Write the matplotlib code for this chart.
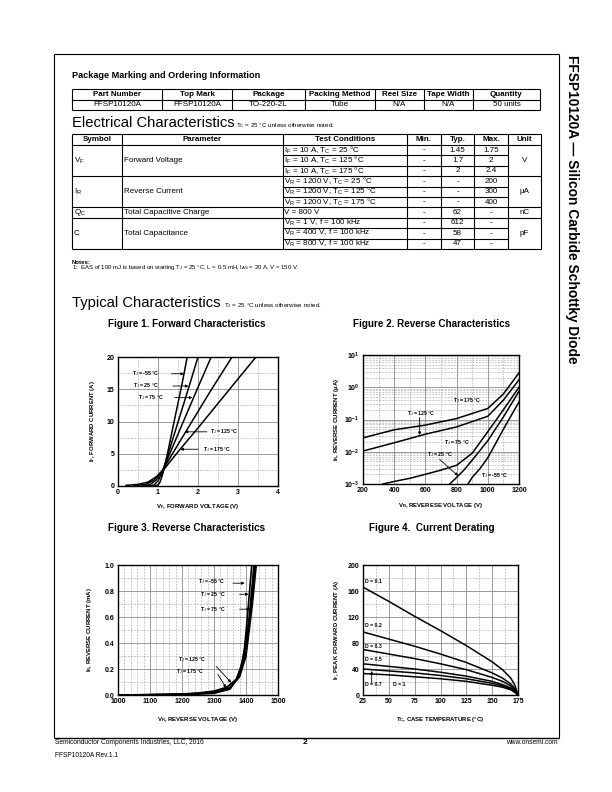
import numpy as np
import matplotlib.pyplot as plt
from matplotlib.ticker import MultipleLocator, LogLocator, NullFormatter

plt.rcParams['font.family'] = ['Liberation Sans', 'DejaVu Sans']
plt.rcParams['mathtext.fontset'] = 'custom'
plt.rcParams['mathtext.rm'] = 'Liberation Sans'
plt.rcParams['mathtext.it'] = 'Liberation Sans:italic'
plt.rcParams['mathtext.bf'] = 'Liberation Sans:bold'

# ---------------- table data ----------------
order_head = ["Part Number", "Top Mark", "Package", "Packing Method", "Reel Size", "Tape Width", "Quantity"]
order_row = ["FFSP10120A", "FFSP10120A", "TO-220-2L", "Tube", "N/A", "N/A", "50 units"]

elec_head = ["Symbol", "Parameter", "Test Conditions", "Min.", "Typ.", "Max.", "Unit"]
elec_symbols = [r"V$_\mathrm{F}$", r"I$_\mathrm{R}$", r"Q$_\mathrm{C}$", "C"]
elec_params = ["Forward Voltage", "Reverse Current", "Total Capacitive Charge", "Total Capacitance"]
elec_units = ["V", "µA", "nC", "pF"]
elec_conds = [
    [r"I$_\mathrm{F}$ = 10 A, T$_\mathrm{C}$ = 25 °C",
     r"I$_\mathrm{F}$ = 10 A, T$_\mathrm{C}$ = 125 °C",
     r"I$_\mathrm{F}$ = 10 A, T$_\mathrm{C}$ = 175 °C"],
    [r"V$_\mathrm{R}$ = 1200 V, T$_\mathrm{C}$ = 25 °C",
     r"V$_\mathrm{R}$ = 1200 V, T$_\mathrm{C}$ = 125 °C",
     r"V$_\mathrm{R}$ = 1200 V, T$_\mathrm{C}$ = 175 °C"],
    ["V = 800 V"],
    [r"V$_\mathrm{R}$ = 1 V, f = 100 kHz",
     r"V$_\mathrm{R}$ = 400 V, f = 100 kHz",
     r"V$_\mathrm{R}$ = 800 V, f = 100 kHz"],
]
elec_min = [["-", "-", "-"], ["-", "-", "-"], ["-"], ["-", "-", "-"]]
elec_typ = [["1.45", "1.7", "2"], ["-", "-", "-"], ["62"], ["612", "58", "47"]]
elec_max = [["1.75", "2", "2.4"], ["200", "300", "400"], ["-"], ["-", "-", "-"]]

# ---------------- Figure 1: forward characteristics ----------------
vf_m55 = [0.9, 1.0, 1.05, 1.1, 1.15, 1.25, 1.4, 1.6, 1.73]
if_m55 = [0, 0.15, 0.6, 1.5, 2.6, 5.4, 9.9, 15.8, 20]
vf_25 = [0.75, 0.9, 1.0, 1.1, 1.2, 1.4, 1.6, 1.8, 2.0]
if_25 = [0, 0.15, 0.8, 2.0, 3.9, 7.9, 11.9, 15.9, 20]
vf_75 = [0.6, 0.8, 0.95, 1.1, 1.3, 1.6, 2.0, 2.33]
if_75 = [0.02, 0.2, 0.9, 2.2, 5.1, 9.5, 15.3, 20]
vf_125 = [0.4, 0.7, 0.9, 1.1, 1.4, 1.8, 2.3, 2.85]
if_125 = [0.05, 0.25, 0.9, 2.3, 5.4, 9.5, 14.6, 20]
vf_175 = [0.2, 0.5, 0.75, 0.95, 1.15, 1.5, 2.0, 2.5, 3.0, 3.45]
if_175 = [0.1, 0.25, 0.6, 1.4, 2.6, 5.3, 9.0, 12.8, 16.6, 20]

# ---------------- Figure 2: reverse characteristics (log) ----------------
vr_175 = [200, 400, 600, 800, 1000, 1100, 1200]
ir_175 = [0.027, 0.048, 0.067, 0.107, 0.22, 0.62, 2.8]
vr_125 = [200, 400, 600, 800, 1000, 1100, 1200]
ir_125 = [0.0105, 0.019, 0.035, 0.059, 0.126, 0.4, 1.7]
vr_75 = [328, 400, 500, 600, 700, 800, 900, 1000, 1100, 1200]
ir_75 = [0.001, 0.0012, 0.0015, 0.002, 0.0027, 0.0038, 0.009, 0.042, 0.2, 1.0]
vr_25 = [756, 800, 850, 900, 1000, 1100, 1200]
ir_25 = [0.001, 0.0016, 0.0028, 0.0055, 0.022, 0.12, 0.75]
vr_m55 = [873, 900, 950, 1000, 1100, 1200]
ir_m55 = [0.001, 0.0016, 0.003, 0.0065, 0.05, 0.35]

# ---------------- Figure 3: reverse characteristics (linear) ----------------
vb_175 = [1000, 1100, 1200, 1250, 1300, 1340, 1370, 1390, 1410, 1430]
ib_175 = [0.0, 0.003, 0.008, 0.015, 0.03, 0.06, 0.12, 0.25, 0.55, 1.0]
vb_125 = [1000, 1100, 1200, 1250, 1300, 1340, 1370, 1390, 1410, 1425]
ib_125 = [0.0, 0.002, 0.006, 0.012, 0.025, 0.055, 0.12, 0.26, 0.6, 1.0]
vb_75 = [1000, 1200, 1300, 1350, 1380, 1400, 1420, 1432]
ib_75 = [0.0, 0.004, 0.02, 0.055, 0.14, 0.3, 0.7, 1.0]
vb_25 = [1000, 1200, 1300, 1350, 1380, 1400, 1415, 1428]
ib_25 = [0.0, 0.003, 0.017, 0.05, 0.15, 0.33, 0.65, 1.0]
vb_m55 = [1000, 1200, 1300, 1350, 1380, 1395, 1405, 1418]
ib_m55 = [0.0, 0.002, 0.013, 0.045, 0.16, 0.35, 0.62, 1.0]

# ---------------- Figure 4: current derating ----------------
tc = [25, 50, 75, 100, 125, 150, 160, 168, 172, 175]
ipk_01 = [166, 144, 121, 99, 76, 51, 39, 26, 15, 0]
ipk_02 = [97, 86, 75, 63, 50, 34, 26, 17, 10, 0]
ipk_03 = [70, 63, 56, 48, 39, 27, 21, 14, 8, 0]
ipk_05 = [48, 44, 40, 35, 29, 21, 16, 11, 6, 0]
ipk_07 = [40, 37, 34, 30, 25, 18, 14, 9, 5, 0]
ipk_1 = [33, 31, 28, 25, 21, 15, 12, 8, 4, 0]
duty_labels = ["D = 0.1", "D = 0.2", "D = 0.3", "D = 0.5", "D = 0.7", "D = 1"]

# ================= page =================
fig = plt.figure(figsize=(6.12, 7.92), dpi=100)
pg = fig.add_axes([0, 0, 1, 1])
pg.set_xlim(0, 612)
pg.set_ylim(792, 0)
pg.axis('off')


def line(x0, y0, x1, y1, lw=0.8):
    pg.plot([x0, x1], [y0, y1], color='k', lw=lw, solid_capstyle='butt')


# frame + side title
line(54, 54, 559, 54)
line(54, 54, 54, 738)
line(559, 54, 559, 738)
line(54, 738, 559, 738, lw=1.0)
pg.text(572, 55, "FFSP10120A — Silicon Carbide Schottky Diode", rotation=-90,
        ha='center', va='top', fontsize=9.9, fontweight='bold')

# ordering table
pg.text(72, 75, "Package Marking and Ordering Information", fontsize=6.6,
        fontweight='bold', va='center')
oc = [72, 162, 232, 305, 375, 424, 473, 540]
for y in [89, 99.5, 110]:
    line(72, y, 540, y)
for x in oc:
    line(x, 89, x, 110)
for i in range(7):
    cx = (oc[i] + oc[i + 1]) / 2
    pg.text(cx, 94.5, order_head[i], ha='center', va='center', fontsize=5.8, fontweight='bold')
    pg.text(cx, 105, order_row[i], ha='center', va='center', fontsize=5.8)

# electrical table
pg.text(72, 127, "Electrical Characteristics", fontsize=10.6, va='baseline')
pg.text(236, 127, r"T$_\mathrm{C}$ = 25 °C unless otherwise noted.", fontsize=4.5, va='baseline')
ec = [72, 122, 283, 407, 441, 474, 508, 541]
top, hb, pitch = 134, 145, 10.4
nrows = sum(len(c) for c in elec_conds)
bottom = hb + pitch * nrows
line(72, top, 541, top)
line(72, hb, 541, hb)
for x in ec:
    line(x, top, x, bottom)
for i in range(7):
    pg.text((ec[i] + ec[i + 1]) / 2, (top + hb) / 2, elec_head[i], ha='center', va='center',
            fontsize=5.8, fontweight='bold')
r = 0
for g in range(len(elec_conds)):
    n = len(elec_conds[g])
    gy = hb + pitch * (r + n / 2)
    pg.text(73.5, gy, elec_symbols[g], va='center', fontsize=5.8)
    pg.text(124, gy, elec_params[g], va='center', fontsize=5.8)
    pg.text((ec[6] + ec[7]) / 2, gy, elec_units[g], ha='center', va='center', fontsize=5.8)
    for k in range(n):
        cy = hb + pitch * (r + k + 0.5)
        pg.text(284.5, cy, elec_conds[g][k], va='center', fontsize=5.8)
        pg.text((ec[3] + ec[4]) / 2, cy, elec_min[g][k], ha='center', va='center', fontsize=5.8)
        pg.text((ec[4] + ec[5]) / 2, cy, elec_typ[g][k], ha='center', va='center', fontsize=5.8)
        pg.text((ec[5] + ec[6]) / 2, cy, elec_max[g][k], ha='center', va='center', fontsize=5.8)
        if k > 0:
            line(ec[2], hb + pitch * (r + k), ec[6], hb + pitch * (r + k))
    r += n
    line(72, hb + pitch * r, 541, hb + pitch * r)

pg.text(72, 262, "Notes:", fontsize=4.3, fontweight='bold', va='center')
pg.text(72, 268, r"1:  EAS of 100 mJ is based on starting T$_\mathrm{J}$ = 25 °C, L = 0.5 mH, "
        r"I$_\mathrm{AS}$ = 20 A, V = 150 V.", fontsize=4.3, va='center')

pg.text(72, 307, "Typical Characteristics", fontsize=10.6, va='baseline')
pg.text(224, 307, r"T$_\mathrm{J}$ = 25 °C unless otherwise noted.", fontsize=4.5, va='baseline')

pg.text(187, 324, "Figure 1. Forward Characteristics", ha='center', va='center', fontsize=7.1, fontweight='bold')
pg.text(432, 324, "Figure 2. Reverse Characteristics", ha='center', va='center', fontsize=7.1, fontweight='bold')
pg.text(187, 528, "Figure 3. Reverse Characteristics", ha='center', va='center', fontsize=7.1, fontweight='bold')
pg.text(432, 528, "Figure 4.  Current Derating", ha='center', va='center', fontsize=7.1, fontweight='bold')

# footer
pg.text(55, 743, "Semiconductor Components Industries, LLC, 2016", fontsize=4.8, va='center')
pg.text(305, 742, "2", fontsize=6, fontweight='bold', ha='center', va='center')
pg.text(558, 743, "www.onsemi.com", fontsize=4.8, ha='right', va='center')
pg.text(55, 755.5, "FFSP10120A Rev.1.1", fontsize=4.8, va='center')


# ================= charts =================
def make_ax(x0, y0, x1, y1):
    return fig.add_axes([x0 / 612, 1 - y1 / 792, (x1 - x0) / 612, (y1 - y0) / 792])


def style(ax):
    ax.set_axisbelow(True)
    ax.grid(which='major', color='#8a8a8a', lw=0.6, ls='-')
    ax.grid(which='minor', color='#a8a8a8', lw=0.45, ls=(0, (3, 2)))
    for s in ax.spines.values():
        s.set_linewidth(1.0)
    ax.tick_params(which='both', length=0, pad=2.5)


lbl = dict(fontsize=3.7, fontweight='bold', va='center')
arr = dict(arrowstyle='-|>', color='k', lw=0.6, mutation_scale=4, shrinkA=0, shrinkB=0)
tk = dict(fontsize=5, fontweight='bold')

# Figure 1
ax1 = make_ax(118, 357, 278, 486)
style(ax1)
for v, i in [(vf_m55, if_m55), (vf_25, if_25), (vf_75, if_75), (vf_125, if_125), (vf_175, if_175)]:
    ax1.plot(v, i, color='k', lw=1.1)
ax1.set_xlim(0, 4)
ax1.set_ylim(0, 20)
ax1.set_xticks([0, 1, 2, 3, 4], ["0", "1", "2", "3", "4"], **tk)
ax1.set_yticks([0, 5, 10, 15, 20], ["0", "5", "10", "15", "20"], **tk)
ax1.xaxis.set_minor_locator(MultipleLocator(0.5))
ax1.yaxis.set_minor_locator(MultipleLocator(2.5))
ax1.set_xlabel(r"$\mathbf{V_F}$, FORWARD VOLTAGE (V)", fontsize=4.3, fontweight='bold')
ax1.set_ylabel(r"$\mathbf{I_F}$, FORWARD CURRENT (A)", fontsize=4.3, fontweight='bold')
ax1.xaxis.set_label_coords(0.5, -0.125)
ax1.yaxis.set_label_coords(-0.13, 0.5)
ax1.text(0.34, 17.4, r"T$_\mathrm{J}$ = -55 °C", **lbl)
ax1.annotate("", xy=(1.65, 17.4), xytext=(1.34, 17.4), arrowprops=arr)
ax1.text(0.38, 15.5, r"T$_\mathrm{J}$ = 25 °C", **lbl)
ax1.annotate("", xy=(1.76, 15.5), xytext=(1.37, 15.5), arrowprops=arr)
ax1.text(0.5, 13.7, r"T$_\mathrm{J}$ = 75 °C", **lbl)
ax1.annotate("", xy=(1.86, 13.7), xytext=(1.42, 13.7), arrowprops=arr)
ax1.text(2.3, 8.4, r"T$_\mathrm{J}$ = 125 °C", **lbl)
ax1.annotate("", xy=(1.67, 8.4), xytext=(2.22, 8.4), arrowprops=arr)
ax1.text(2.12, 5.7, r"T$_\mathrm{J}$ = 175 °C", **lbl)
ax1.annotate("", xy=(1.56, 5.7), xytext=(2.0, 5.7), arrowprops=arr)

# Figure 2
ax2 = make_ax(363, 355, 519, 484)
style(ax2)
ax2.set_yscale('log')
for v, i in [(vr_175, ir_175), (vr_125, ir_125), (vr_75, ir_75), (vr_25, ir_25), (vr_m55, ir_m55)]:
    ax2.plot(v, i, color='k', lw=1.1)
ax2.set_xlim(200, 1200)
ax2.set_ylim(1e-3, 1e1)
ax2.set_xticks([200, 400, 600, 800, 1000, 1200], ["200", "400", "600", "800", "1000", "1200"], **tk)
ax2.set_yticks([1e-3, 1e-2, 1e-1, 1e0, 1e1],
               [r"$\mathbf{10^{-3}}$", r"$\mathbf{10^{-2}}$", r"$\mathbf{10^{-1}}$",
                r"$\mathbf{10^{0}}$", r"$\mathbf{10^{1}}$"], fontsize=5)
ax2.xaxis.set_minor_locator(MultipleLocator(100))
ax2.yaxis.set_minor_locator(LogLocator(base=10, subs=range(2, 10)))
ax2.yaxis.set_minor_formatter(NullFormatter())
ax2.set_xlabel(r"$\mathbf{V_R}$, REVERESE VOLTAGE (V)", fontsize=4.3, fontweight='bold')
ax2.set_ylabel(r"$\mathbf{I_R}$, REVERSE CURRENT (µA)", fontsize=4.3, fontweight='bold')
ax2.xaxis.set_label_coords(0.5, -0.128)
ax2.yaxis.set_label_coords(-0.14, 0.5)
ax2.text(777, 0.38, r"T$_\mathrm{J}$ = 175 °C", **lbl)
ax2.text(484, 0.155, r"T$_\mathrm{J}$ = 125 °C", **lbl)
ax2.annotate("", xy=(563, 0.033), xytext=(563, 0.115), arrowprops=arr)
ax2.text(717, 0.019, r"T$_\mathrm{J}$ = 75 °C", **lbl)
ax2.text(610, 0.0081, r"T$_\mathrm{J}$ = 25 °C", **lbl)
ax2.annotate("", xy=(809, 0.0018), xytext=(691, 0.0058), arrowprops=arr)
ax2.text(958, 0.0018, r"T$_\mathrm{J}$ = -55 °C", **lbl)

# Figure 3
ax3 = make_ax(118, 565, 278, 695)
style(ax3)
for v, i in [(vb_175, ib_175), (vb_125, ib_125), (vb_75, ib_75), (vb_25, ib_25), (vb_m55, ib_m55)]:
    ax3.plot(v, i, color='k', lw=1.2)
ax3.set_xlim(1000, 1500)
ax3.set_ylim(0, 1.0)
ax3.set_xticks([1000, 1100, 1200, 1300, 1400, 1500], ["1000", "1100", "1200", "1300", "1400", "1500"], **tk)
ax3.set_yticks([0, 0.2, 0.4, 0.6, 0.8, 1.0], ["0.0", "0.2", "0.4", "0.6", "0.8", "1.0"], **tk)
ax3.xaxis.set_minor_locator(MultipleLocator(20))
ax3.yaxis.set_minor_locator(MultipleLocator(0.1))
ax3.set_xlabel(r"$\mathbf{V_R}$, REVERSE VOLTAGE (V)", fontsize=4.3, fontweight='bold')
ax3.set_ylabel(r"$\mathbf{I_R}$, REVERSE CURRENT (mA)", fontsize=4.3, fontweight='bold')
ax3.xaxis.set_label_coords(0.5, -0.15)
ax3.yaxis.set_label_coords(-0.15, 0.5)
ax3.text(1250, 0.87, r"T$_\mathrm{J}$ = -55 °C", **lbl)
ax3.annotate("", xy=(1396, 0.86), xytext=(1359, 0.86), arrowprops=arr)
ax3.text(1255, 0.775, r"T$_\mathrm{J}$ = 25 °C", **lbl)
ax3.annotate("", xy=(1408, 0.775), xytext=(1380, 0.775), arrowprops=arr)
ax3.text(1255, 0.66, r"T$_\mathrm{J}$ = 75 °C", **lbl)
ax3.annotate("", xy=(1413, 0.66), xytext=(1380, 0.66), arrowprops=arr)
ax3.text(1187, 0.27, r"T$_\mathrm{J}$ = 125 °C", **lbl)
ax3.annotate("", xy=(1354, 0.095), xytext=(1307, 0.22), arrowprops=arr)
ax3.text(1182, 0.18, r"T$_\mathrm{J}$ = 175 °C", **lbl)
ax3.annotate("", xy=(1338, 0.055), xytext=(1312, 0.16), arrowprops=arr)

# Figure 4
ax4 = make_ax(363, 565, 518, 695)
style(ax4)
for i in [ipk_01, ipk_02, ipk_03, ipk_05, ipk_07, ipk_1]:
    ax4.plot(tc, i, color='k', lw=1.1)
ax4.set_xlim(25, 175)
ax4.set_ylim(0, 200)
ax4.set_xticks([25, 50, 75, 100, 125, 150, 175], ["25", "50", "75", "100", "125", "150", "175"], **tk)
ax4.set_yticks([0, 40, 80, 120, 160, 200], ["0", "40", "80", "120", "160", "200"], **tk)
ax4.xaxis.set_minor_locator(MultipleLocator(12.5))
ax4.yaxis.set_minor_locator(MultipleLocator(20))
ax4.set_xlabel(r"$\mathbf{T_C}$, CASE TEMPERATURE (°C)", fontsize=4.3, fontweight='bold')
ax4.set_ylabel(r"$\mathbf{I_F}$, PEAK FORWARD CURRENT (A)", fontsize=4.3, fontweight='bold')
ax4.xaxis.set_label_coords(0.5, -0.15)
ax4.yaxis.set_label_coords(-0.14, 0.5)
for (x, y), s in zip([(26.5, 174), (26.5, 107), (26.5, 75), (26.5, 55), (26.5, 16), (54, 16)], duty_labels):
    ax4.text(x, y, s, **lbl)
ax4.annotate("", xy=(33.4, 37), xytext=(33.4, 18), arrowprops=arr)

fig.savefig("out.png", dpi=100)
